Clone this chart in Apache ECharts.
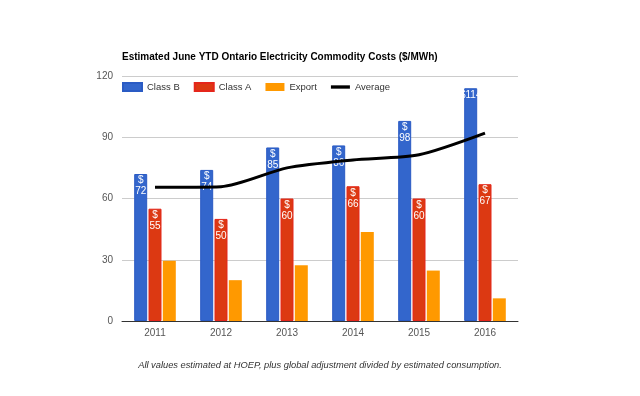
<!DOCTYPE html>
<html>
<head>
<meta charset="utf-8">
<script src="https://cdn.jsdelivr.net/npm/echarts@6/dist/echarts.min.js"></script>
<style>
  html, body { margin: 0; padding: 0; background: #fff; }
  #main { width: 640px; height: 396px; }
</style>
</head>
<body>
<div id="main"></div>
<script>
const years = ['2011', '2012', '2013', '2014', '2015', '2016'];
const classB = [72, 74, 85, 86, 98, 114];
const classA = [55, 50, 60, 66, 60, 67];
const exportCost = [29.5, 20, 27.3, 43.6, 24.7, 11.1];
const average = [65.5, 65.8, 75, 78.9, 81.4, 92];
const yTicks = [0, 30, 60, 90, 120];

const FONT = '"Liberation Sans", Arial, sans-serif';

// label inside the top of a bar: "$" over the value (3 digits don't fit, so one line)
const dollarLabel = {
    show: true,
    position: 'insideTop',
    distance: 1,
    color: '#fff',
    fontFamily: FONT,
    fontSize: 10,
    lineHeight: 11,
    formatter: p => (p.value >= 100 ? '$' : '$\n') + p.value
};

let chart = echarts.init(document.getElementById('main'));

let option = {
    animation: false,
    textStyle: { fontFamily: FONT },
    title: {
        text: 'Estimated June YTD Ontario Electricity Commodity Costs ($/MWh)',
        left: 117,
        top: 47,
        textStyle: { fontSize: 10, fontWeight: 'bold', color: '#000', fontFamily: FONT }
    },
    legend: {
        left: 117,
        top: 77,
        itemWidth: 19,
        itemHeight: 8,
        itemGap: 14,
        textStyle: { fontSize: 9.5, color: '#333', fontFamily: FONT },
        data: [
            { name: 'Class B', icon: 'rect' },
            { name: 'Class A', icon: 'rect' },
            { name: 'Export', icon: 'rect' },
            { name: 'Average', icon: 'path://M0,0L17,0L17,3L0,3Z', itemStyle: { color: '#000' } }
        ]
    },
    graphic: [{
        type: 'text',
        left: 'center',
        top: 361,
        style: {
            text: 'All values estimated at HOEP, plus global adjustment divided by estimated consumption.',
            font: 'italic 9.3px ' + FONT,
            fill: '#333'
        }
    }],
    grid: { left: 122, right: 122, top: 76, bottom: 75 },
    xAxis: {
        type: 'category',
        data: years,
        axisTick: { show: false },
        axisLine: { lineStyle: { color: '#333', width: 1 } },
        axisLabel: { color: '#555', fontSize: 10, margin: 7 }
    },
    yAxis: {
        type: 'value',
        min: yTicks[0],
        max: yTicks[yTicks.length - 1],
        interval: 30,
        axisLine: { show: false },
        axisTick: { show: false },
        axisLabel: { color: '#555', fontSize: 10, margin: 9 },
        splitLine: { lineStyle: { color: '#ccc' } }
    },
    series: [
        {
            name: 'Class B', type: 'bar', data: classB,
            barWidth: 13, barGap: '10%',
            itemStyle: { color: '#3366cc', borderColor: '#2a5bc4', borderWidth: 1 },
            label: dollarLabel
        },
        {
            name: 'Class A', type: 'bar', data: classA,
            barWidth: 13, barGap: '10%',
            itemStyle: { color: '#dc3912', borderColor: '#e5261b', borderWidth: 1 },
            label: dollarLabel
        },
        {
            name: 'Export', type: 'bar', data: exportCost,
            barWidth: 13, barGap: '10%',
            itemStyle: { color: '#ff9900' }
        },
        {
            name: 'Average', type: 'line', data: average,
            smooth: 0.25,
            symbol: 'none',
            lineStyle: { color: '#000', width: 3 },
            itemStyle: { color: '#000' },
            z: 5
        }
    ]
};

chart.setOption(option);
</script>
</body>
</html>
